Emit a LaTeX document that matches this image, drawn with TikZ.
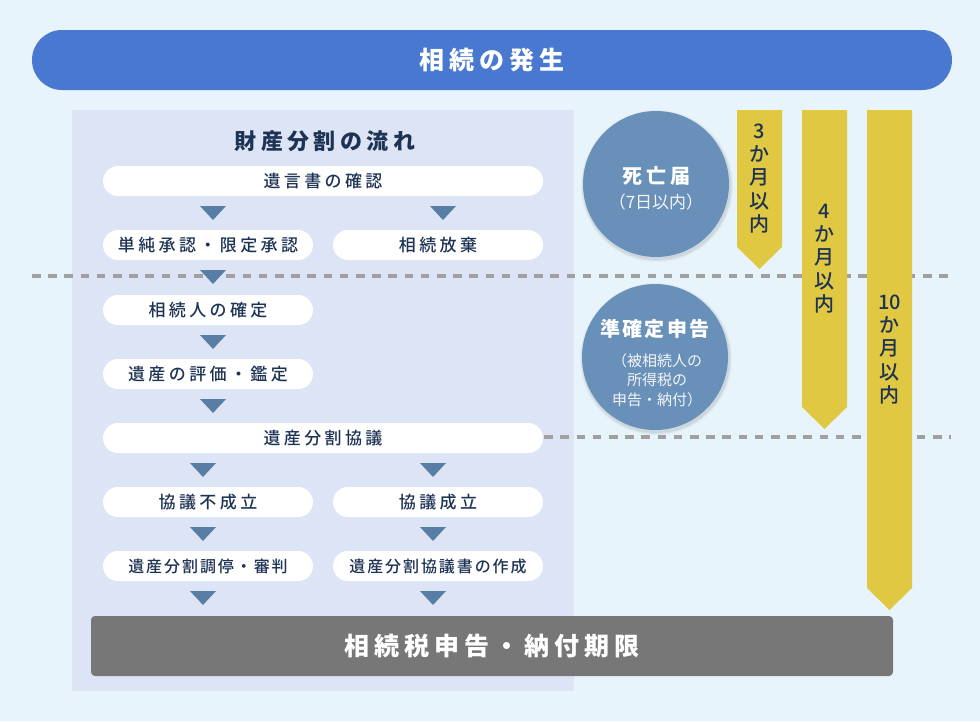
\documentclass[tikz,border=0pt]{standalone}
\usepackage{fontspec}
\setmainfont{Noto Sans CJK JP}
\newfontfamily\jpA{Noto Sans CJK JP}[LetterSpace=20]
\newfontfamily\jpB{Noto Sans CJK JP}[LetterSpace=12]
\newfontfamily\jpMA{Noto Sans CJK JP Medium}[LetterSpace=20]
\newfontfamily\jpMB{Noto Sans CJK JP Medium}[LetterSpace=12]
\newfontfamily\jpM{Noto Sans CJK JP Medium}
\usetikzlibrary{calc}
\definecolor{bg}{HTML}{E8F4FC}
\definecolor{panel}{HTML}{DCE4F6}
\definecolor{hdblue}{HTML}{4878D0}
\definecolor{navy}{HTML}{1E3354}
\definecolor{tri}{HTML}{587EA6}
\definecolor{circ}{HTML}{6890B8}
\definecolor{ban}{HTML}{E0C842}
\definecolor{barg}{HTML}{777777}
\definecolor{dashg}{HTML}{A0A0A0}
\newcommand\downtri[2]{\fill[tri] (#1-13,#2) -- (#1+13,#2) -- (#1,#2+14) -- cycle;}
\tikzset{
  box/.style={fill=white, rounded corners=15pt, minimum height=30pt, inner sep=0pt, text=navy,
    font=\fontsize{17}{20}\selectfont\jpMA},
  boxs/.style={box, font=\fontsize{16}{20}\selectfont\jpMB},
  dline/.style={draw=dashg, line width=3.5pt, dash pattern=on 8.5pt off 7.7pt},
  bantext/.style={text=navy, align=center, inner sep=0pt, font=\fontsize{20}{23.25}\selectfont\jpM},
  ctitle/.style={text=white, inner sep=0pt, font=\fontsize{20}{24}\selectfont\jpA\bfseries},
  csub/.style={text=white!92!circ, inner sep=0pt, align=center, font=\fontsize{15}{19.5}\selectfont},
}
\begin{document}
\begin{tikzpicture}[x=1pt,y=-1pt]
\fill[bg] (0,0) rectangle (980,721);
\useasboundingbox (0,0) rectangle (980,721);
% header
\node[fill=hdblue, rounded corners=30pt, minimum width=920pt, minimum height=60pt, text=white,
  font=\fontsize{25}{30}\selectfont\jpA\bfseries] (hd) at (492,60) {相続の発生};
% panel
\fill[panel] (72,110) rectangle (574,691);
% dashed lines
\coordinate (d1a) at (32,276);
\coordinate (d1b) at (951,276);
\draw[dline] (d1a) -- (d1b);
% title
\node[text=navy, font=\fontsize{22}{26}\selectfont\jpA\bfseries] (ttl) at (325,141) {財産分割の流れ};
% boxes
\node[box, minimum width=440pt] (b1) at (323,181) {遺言書の確認};
\node[box, minimum width=210pt] (b2) at (208,245) {単純承認・限定承認};
\node[box, minimum width=210pt] (b3) at (438,245) {相続放棄};
\node[box, minimum width=210pt] (b4) at (208,310) {相続人の確定};
\node[box, minimum width=210pt] (b5) at (208,374) {遺産の評価・鑑定};
\node[box, minimum width=440pt] (b6) at (323,438) {遺産分割協議};
\node[box, minimum width=210pt] (b7) at (208,502) {協議不成立};
\node[box, minimum width=210pt] (b8) at (438,502) {協議成立};
\node[boxs, minimum width=210pt] (b9) at (208,566) {遺産分割調停・審判};
\node[boxs, minimum width=210pt] (b10) at (438,566) {遺産分割協議書の作成};
\coordinate (d2b) at (951,437);
\draw[dline] (b6.east |- d2b) ++(1,0) -- (d2b);
% triangles
\downtri{213}{206}
\downtri{443}{206}
\downtri{213}{270}
\downtri{213}{335}
\downtri{213}{399}
\downtri{203}{463}
\downtri{433}{463}
\downtri{203}{527}
\downtri{433}{527}
\downtri{203}{591}
\downtri{433}{591}
% circles
\foreach \r/\o in {76/0.03,75/0.04,74/0.05}{
  \fill[black,opacity=\o] (657,186) circle (\r);
  \fill[black,opacity=\o] (656,359) circle (\r);
}
\node[circle, fill=circ, minimum size=146pt, inner sep=0pt] (c1) at (656,184) {};
\node[ctitle] (c1t) at (656,176) {死亡届};
\node[csub, font=\fontsize{17}{20}\selectfont] (c1s) at (656,202) {（7日以内）};
\node[circle, fill=circ, minimum size=146pt, inner sep=0pt] (c2) at (655,357) {};
\node[ctitle, font=\fontsize{20}{24}\selectfont\jpB\bfseries] (c2t) at (655,329) {準確定申告};
\node[csub] (c2s) at (657,380) {（被相続人の\\所得税の\\申告・納付）};
% banners
\fill[ban] (737,110) -- (782,110) -- (782,247) -- (759.5,269) -- (737,247) -- cycle;
\fill[ban] (802,110) -- (847,110) -- (847,407) -- (824.5,429) -- (802,407) -- cycle;
\fill[ban] (867,110) -- (912,110) -- (912,588) -- (889.5,610) -- (867,588) -- cycle;
\node[bantext] (t3) at (759.5,178.5) {3\\か\\月\\以\\内};
\node[bantext] (t4) at (824.5,258.5) {4\\か\\月\\以\\内};
\node[bantext] (t10) at (889.5,349.5) {10\\か\\月\\以\\内};
% bottom bar
\node[fill=barg, rounded corners=4pt, minimum width=802pt, minimum height=60pt, text=white,
  font=\fontsize{25}{30}\selectfont\jpA\bfseries] (bar) at (492,646) {相続税申告・納付期限};
\end{tikzpicture}
\end{document}
